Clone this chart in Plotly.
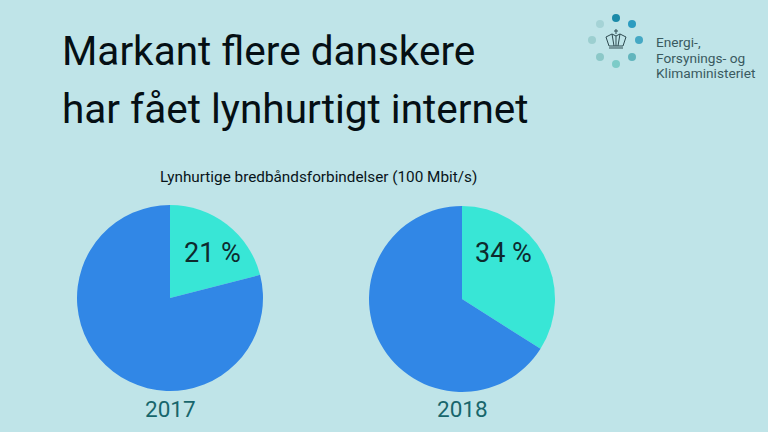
import plotly.graph_objects as go

W, H = 768, 432

# data
years = ["2017", "2018"]
share_fast = [21, 34]
share_labels = ["21 %", "34 %"]
slice_names = ["Lynhurtige", "Øvrige"]
title_lines = ["Markant flere danskere", "har fået lynhurtigt internet"]
subtitle = "Lynhurtige bredbåndsforbindelser (100 Mbit/s)"
logo_lines = ["Energi-,", "Forsynings- og", "Klimaministeriet"]

BG = "#bfe4e8"
FONT = "Roboto"


def px(x):
    return x / W


def py(y):
    return 1 - y / H


def text(x, y, s, size, color="#0c1a1e", anchor="left"):
    return dict(x=px(x), y=py(y), xref="paper", yref="paper", text=s, showarrow=False,
                xanchor=anchor, yanchor="middle", font=dict(family=FONT, size=size, color=color))


fig = go.Figure()

centers = [(170, 298, 93), (462, 299, 93)]
for i, (cx, cy, r) in enumerate(centers):
    fig.add_trace(go.Pie(
        labels=slice_names,
        values=[share_fast[i], 100 - share_fast[i]],
        sort=False,
        direction="clockwise",
        rotation=0,
        textinfo="none",
        hoverinfo="label+percent",
        marker=dict(colors=["#38e6d6", "#3187e6"], line=dict(width=0)),
        domain=dict(x=[px(cx - r), px(cx + r)], y=[py(cy + r), py(cy - r)]),
        showlegend=False,
    ))

annotations = [
    text(60, 51, title_lines[0], 40.5, "#050f14"),
    text(60, 109, title_lines[1], 40.5, "#050f14"),
    text(318, 177, subtitle, 15.3, "#08141a", "center"),
    text(212, 253, share_labels[0], 27, "#0e2a2e", "center"),
    text(503, 253, share_labels[1], 27, "#0e2a2e", "center"),
    text(170, 409, years[0], 22.5, "#17666c", "center"),
    text(462, 409, years[1], 22.5, "#17666c", "center"),
]
for line, y in zip(logo_lines, [42, 58, 73]):
    annotations.append(text(654, y, line, 13.7, "#3a5a60"))

# logo: ring of dots and a small crown
dots = [
    (616, 18, "#1a8aa8"), (632, 24, "#2c9cc0"), (639, 40, "#45a8c4"), (632, 57, "#62b5bd"),
    (616, 64, "#7ccbc8"), (600, 57, "#8cc8c8"), (592, 40, "#9ccfd0"), (600, 24, "#a5d3d6"),
]
shapes = []
for x, y, c in dots:
    shapes.append(dict(type="circle", xref="paper", yref="paper",
                       x0=px(x - 4), x1=px(x + 4), y0=py(y + 4), y1=py(y - 4),
                       fillcolor=c, line=dict(width=0)))

crown = [
    [(606, 37), (612, 34), (616, 36), (620, 34), (626, 37), (623, 46), (609, 46)],
    [(612, 34), (614, 46)],
    [(620, 34), (618, 46)],
    [(616, 36), (616, 46)],
    [(609, 48), (623, 48)],
    [(616, 29), (616, 34)],
    [(614, 31), (618, 31)],
]
for idx, pts in enumerate(crown):
    path = "M " + " L ".join(f"{px(x):.5f},{py(y):.5f}" for x, y in pts)
    if idx == 0:
        path += " Z"
    shapes.append(dict(type="path", xref="paper", yref="paper", path=path,
                       line=dict(color="#2e4a50", width=1)))

fig.update_layout(
    width=W,
    height=H,
    margin=dict(l=0, r=0, t=0, b=0),
    paper_bgcolor=BG,
    plot_bgcolor=BG,
    annotations=annotations,
    shapes=shapes,
)

# the browser's default body margin would leave a white edge
fig.write_html(
    "out.html",
    config=dict(displayModeBar=False),
    post_script="document.body.style.margin='0';document.body.style.overflow='hidden';",
)
